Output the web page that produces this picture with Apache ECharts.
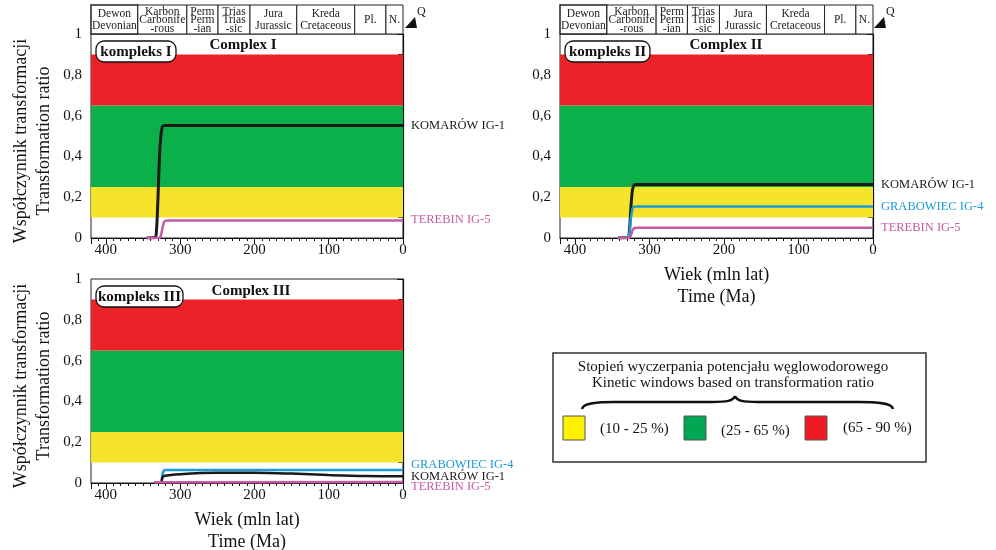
<!DOCTYPE html>
<html><head><meta charset="utf-8">
<script src="https://cdn.jsdelivr.net/npm/echarts@6/dist/echarts.min.js"></script>
<style>html,body{margin:0;padding:0;background:#fff}#c{width:996px;height:550px}</style>
</head><body><div id="c"></div>
<script>
// ---- data ----
const periodNames = ["Dewon\nDevonian", "Karbon\nCarbonife\n-rous", "Perm\nPerm\n-ian", "Trias\nTrias\n-sic", "Jura\nJurassic", "Kreda\nCretaceous", "Pl.", "N."];
const periodBounds = [420, 357, 291, 249, 206, 143, 65, 23, 0];
const bandEdges = [0.1, 0.25, 0.65, 0.9];
const bandColors = ['#F6E42A', '#0CB04B', '#EC2229'];
const legendLabels = ['(10 - 25 %)', '(25 - 65 %)', '(65 - 90 %)'];
const legendColors = ['#FFF200', '#00A651', '#ED1C24'];
const yTickLabels = {0: '0', 0.2: '0,2', 0.4: '0,4', 0.6: '0,6', 0.8: '0,8', 1: '1'};

// complex I
const komarow1 = [[345,0],[334,0.002],[332,0.03],[330,0.18],[328,0.38],[326,0.5],[324,0.545],[322,0.552],[0,0.552]];
const terebin1 = [[345,0],[328,0.001],[326,0.01],[324,0.045],[322,0.075],[320,0.084],[317,0.086],[0,0.086]];
// complex II
const komarow2 = [[342,0],[329,0.002],[327,0.03],[325,0.14],[323,0.23],[321,0.257],[319,0.262],[0,0.262]];
const grabowiec2 = [[329,0],[327,0.02],[325,0.09],[323,0.14],[321,0.153],[318,0.155],[0,0.155]];
const terebin2 = [[342,0],[327,0.001],[325,0.012],[323,0.035],[321,0.047],[318,0.05],[0,0.05]];
// complex III
const grabowiec3 = [[335,0],[326,0.002],[324,0.04],[322,0.06],[320,0.064],[0,0.064]];
const komarow3 = [[335,0],[326,0.002],[324,0.025],[322,0.034],[300,0.043],[250,0.05],[200,0.05],[150,0.046],[100,0.039],[50,0.034],[0,0.033]];
const terebin3 = [[335,0.004],[0,0.005]];

const FONT = '"Liberation Serif", "Times New Roman", serif';
const BLACK = '#1a1a1a', BLUE = '#1B9AD6', PINK = '#C65BA6';
const X_MAX = 420;

const chart = echarts.init(document.getElementById('c'), null, {renderer: 'canvas'});

const plots = [
  {left: 91, top: 34, width: 312, yName: true, xName: false},
  {left: 560, top: 34, width: 313, yName: false, xName: true},
  {left: 91, top: 279, width: 312, yName: true, xName: true}
];
const headers = [{left: 91, top: 5, width: 312}, {left: 560, top: 5, width: 313}];

const grids = [], xAxes = [], yAxes = [], series = [];
plots.forEach((p, i) => {
  grids.push({left: p.left, top: p.top, width: p.width, height: 204, show: true, borderColor: '#222', borderWidth: 1, backgroundColor: '#fff',
    containLabel: false, outerBoundsMode: 'none'});
  xAxes.push({
    gridIndex: i, type: 'value', min: 0, max: X_MAX, interval: 100, inverse: true,
    axisLine: {show: true, lineStyle: {color: '#111', width: 1.2}},
    axisTick: {show: true, inside: false, length: 6, lineStyle: {color: '#111'}},
    minorTick: {show: true, splitNumber: 10, length: 3, lineStyle: {color: '#111'}},
    splitLine: {show: false},
    axisLabel: {showMaxLabel: false, color: '#111', fontFamily: FONT, fontSize: 15, margin: 5},
    name: p.xName ? 'Wiek (mln lat)\nTime (Ma)' : '', nameLocation: 'middle', nameGap: 26,
    nameTextStyle: {fontFamily: FONT, fontSize: 18, color: '#111', lineHeight: 22, verticalAlign: 'top'}
  });
  yAxes.push({
    gridIndex: i, type: 'value', min: 0, max: 1, interval: 0.2,
    axisLine: {show: true, lineStyle: {color: '#111', width: 1.2}},
    axisTick: {show: true, inside: false, length: 6, lineStyle: {color: '#111'}},
    minorTick: {show: true, splitNumber: 2, length: 5, lineStyle: {color: '#111'}},
    splitLine: {show: false},
    axisLabel: {color: '#111', fontFamily: FONT, fontSize: 15, margin: 9, formatter: v => yTickLabels[Math.round(v*10)/10] ?? String(v).replace('.', ',')},
    name: p.yName ? 'Współczynnik transformacji\nTransformation ratio' : '', nameLocation: 'middle', nameGap: 35, nameRotate: 90,
    nameTextStyle: {fontFamily: FONT, fontSize: 18, color: '#111', lineHeight: 23, padding: [0, 10, 0, 0]}
  });
  // kinetic window bands
  const areas = [];
  for (let b = 0; b < bandColors.length; b++) {
    areas.push([{yAxis: bandEdges[b], itemStyle: {color: bandColors[b]}}, {yAxis: bandEdges[b + 1]}]);
  }
  series.push({type: 'line', xAxisIndex: i, yAxisIndex: i, data: [], z: 1, silent: true,
    markArea: {silent: true, data: areas, label: {show: false}}});
});

// header grids
headers.forEach((h, k) => {
  const gi = grids.length;
  grids.push({left: h.left, top: h.top, width: h.width, height: 29, show: false, containLabel: false, outerBoundsMode: 'none'});
  xAxes.push({gridIndex: gi, type: 'value', min: 0, max: X_MAX, inverse: true, show: false});
  yAxes.push({gridIndex: gi, type: 'value', min: 0, max: 1, show: false});
  const data = periodNames.map((n, j) => [periodBounds[j], periodBounds[j + 1], j]);
  series.push({
    type: 'custom', xAxisIndex: gi, yAxisIndex: gi, data: data, silent: true, z: 5,
    renderItem: function (params, api) {
      const a = api.coord([api.value(0), 1]);
      const b = api.coord([api.value(1), 0]);
      const name = periodNames[api.value(2)];
      const lines = name.split('\n').length;
      const x = Math.min(a[0], b[0]), w = Math.abs(b[0] - a[0]);
      return {
        type: 'group', children: [
          {type: 'rect', shape: {x: x, y: a[1], width: w, height: b[1] - a[1]},
           style: {fill: '#fff', stroke: '#222', lineWidth: api.value(2) === 0 ? 1.5 : 1}},
          {type: 'text', style: {text: name, x: x + w / 2, y: (a[1] + b[1]) / 2 + 0.5, align: 'center', verticalAlign: 'middle',
            font: '11.5px ' + FONT, lineHeight: lines === 3 ? 8.5 : 12, fill: '#222'}}
        ]
      };
    }
  });
});

function lineSeries(gi, name, data, color, width, dy) {
  return {
    type: 'line', name: name, xAxisIndex: gi, yAxisIndex: gi, data: data, z: 3,
    showSymbol: false, symbol: 'none', smooth: 0.35, animation: false,
    lineStyle: {color: color, width: width},
    endLabel: {show: true, formatter: name, color: color, fontFamily: FONT, fontSize: 12.5, align: 'left', distance: -8,
      offset: [0, dy]}
  };
}
series.push(lineSeries(0, 'KOMARÓW IG-1', komarow1, BLACK, 3, 0));
series.push(lineSeries(0, 'TEREBIN IG-5', terebin1, PINK, 2.5, -1));
series.push(lineSeries(1, 'KOMARÓW IG-1', komarow2, BLACK, 3, 0));
series.push(lineSeries(1, 'GRABOWIEC IG-4', grabowiec2, BLUE, 2.5, 0));
series.push(lineSeries(1, 'TEREBIN IG-5', terebin2, PINK, 2.5, 0));
series.push(lineSeries(2, 'GRABOWIEC IG-4', grabowiec3, BLUE, 2.5, -5));
series.push(lineSeries(2, 'KOMARÓW IG-1', komarow3, BLACK, 2.5, 0));
series.push(lineSeries(2, 'TEREBIN IG-5', terebin3, PINK, 2.5, 5));

function boxLabel(x, y, w, text) {
  return {type: 'group', children: [
    {type: 'rect', shape: {x: x, y: y, width: w, height: 21, r: 8}, style: {fill: '#fff', stroke: '#111', lineWidth: 1.3}, z: 20},
    {type: 'text', style: {text: text, x: x + w / 2, y: y + 11, align: 'center', verticalAlign: 'middle', font: 'bold 15px ' + FONT, fill: '#111'}, z: 21}
  ]};
}
function title(x, y, text) {
  return {type: 'text', z: 21, style: {text: text, x: x, y: y, align: 'center', verticalAlign: 'middle', font: 'bold 15px ' + FONT, fill: '#111'}};
}
function qMark(x) {
  return {type: 'group', children: [
    {type: 'polygon', shape: {points: [[x, 28], [x + 12, 28], [x + 10, 17]]}, style: {fill: '#111'}, z: 20},
    {type: 'text', style: {text: 'Q', x: x + 12, y: 12, align: 'left', verticalAlign: 'middle', font: '12px ' + FONT, fill: '#111'}, z: 20}
  ]};
}

const legendX = [563, 684, 805];
const legendTextX = [600, 721, 843];
const legendTextY = [429, 431, 428];
const legendItems = [];
legendColors.forEach((c, i) => {
  legendItems.push({type: 'rect', shape: {x: legendX[i], y: 416, width: 22, height: 24}, style: {fill: c, stroke: '#555', lineWidth: 1}, z: 21});
  legendItems.push({type: 'text', style: {text: legendLabels[i], x: legendTextX[i], y: legendTextY[i], align: 'left', verticalAlign: 'middle', font: '15px ' + FONT, fill: '#111'}, z: 21});
});
const braceStyle = {fill: null, stroke: '#111', lineWidth: 2.5};
const brace = [
  {type: 'bezierCurve', shape: {x1: 582, y1: 409, cpx1: 583, cpy1: 403, cpx2: 598, cpy2: 402, x2: 615, y2: 402}, style: braceStyle, z: 21},
  {type: 'line', shape: {x1: 615, y1: 402, x2: 712, y2: 402}, style: braceStyle, z: 21},
  {type: 'bezierCurve', shape: {x1: 712, y1: 402, cpx1: 727, cpy1: 402, cpx2: 733, cpy2: 401, x2: 735, y2: 396}, style: braceStyle, z: 21},
  {type: 'bezierCurve', shape: {x1: 735, y1: 396, cpx1: 737, cpy1: 401, cpx2: 743, cpy2: 402, x2: 758, y2: 402}, style: braceStyle, z: 21},
  {type: 'line', shape: {x1: 758, y1: 402, x2: 858, y2: 402}, style: braceStyle, z: 21},
  {type: 'bezierCurve', shape: {x1: 858, y1: 402, cpx1: 878, cpy1: 402, cpx2: 892, cpy2: 403, x2: 893, y2: 409}, style: braceStyle, z: 21}
];

const graphic = [
  boxLabel(96, 41, 80, 'kompleks I'),
  boxLabel(565, 41, 85, 'kompleks II'),
  boxLabel(96, 286, 87, 'kompleks III'),
  title(243, 45, 'Complex I'),
  title(726, 45, 'Complex II'),
  title(251, 291, 'Complex III'),
  qMark(405), qMark(874),
  {type: 'rect', shape: {x: 553, y: 353, width: 373, height: 109}, style: {fill: '#fff', stroke: '#333', lineWidth: 1.5}, z: 20},
  {type: 'text', style: {text: 'Stopień wyczerpania potencjału węglowodorowego', x: 733, y: 367, align: 'center', verticalAlign: 'middle', font: '15px ' + FONT, fill: '#111'}, z: 21},
  {type: 'text', style: {text: 'Kinetic windows based on transformation ratio', x: 733, y: 383, align: 'center', verticalAlign: 'middle', font: '15px ' + FONT, fill: '#111'}, z: 21}
].concat(brace, legendItems);

chart.setOption({
  animation: false,
  backgroundColor: '#fff',
  textStyle: {fontFamily: FONT},
  grid: grids, xAxis: xAxes, yAxis: yAxes, series: series, graphic: graphic
});
</script></body></html>
